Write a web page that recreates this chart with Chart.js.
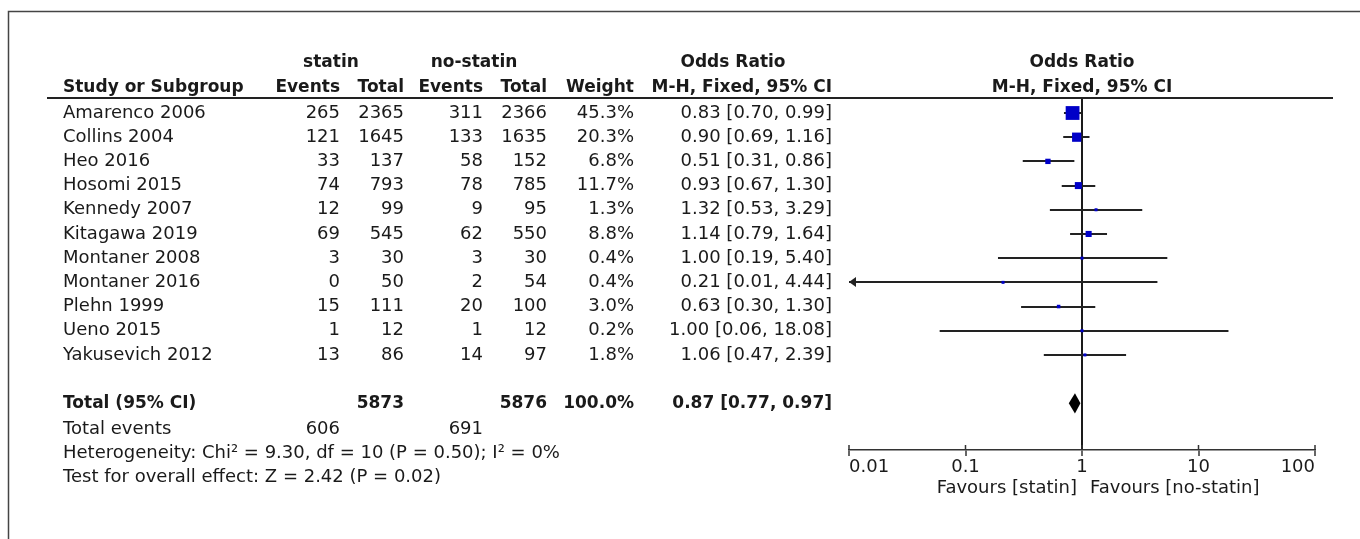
<!DOCTYPE html>
<html>
<head>
<meta charset="utf-8">
<script src="https://cdn.jsdelivr.net/npm/chart.js@4.4.1/dist/chart.umd.min.js"></script>
<style>
  html, body { margin: 0; padding: 0; background: #fff; }
  canvas { display: block; }
</style>
</head>
<body>
<canvas id="forest" width="1360" height="539"></canvas>
<script>
// study rows
const studies = ['Amarenco 2006', 'Collins 2004', 'Heo 2016', 'Hosomi 2015', 'Kennedy 2007',
  'Kitagawa 2019', 'Montaner 2008', 'Montaner 2016', 'Plehn 1999', 'Ueno 2015', 'Yakusevich 2012'];
const statinEvents = [265, 121, 33, 74, 12, 69, 3, 0, 15, 1, 13];
const statinTotal = [2365, 1645, 137, 793, 99, 545, 30, 50, 111, 12, 86];
const noStatinEvents = [311, 133, 58, 78, 9, 62, 3, 2, 20, 1, 14];
const noStatinTotal = [2366, 1635, 152, 785, 95, 550, 30, 54, 100, 12, 97];
const weights = [45.3, 20.3, 6.8, 11.7, 1.3, 8.8, 0.4, 0.4, 3.0, 0.2, 1.8];
const oddsRatio = [0.83, 0.90, 0.51, 0.93, 1.32, 1.14, 1.00, 0.21, 0.63, 1.00, 1.06];
const ciLow = [0.70, 0.69, 0.31, 0.67, 0.53, 0.79, 0.19, 0.01, 0.30, 0.06, 0.47];
const ciHigh = [0.99, 1.16, 0.86, 1.30, 3.29, 1.64, 5.40, 4.44, 1.30, 18.08, 2.39];

// pooled result
const totalStatin = 5873;
const totalNoStatin = 5876;
const eventsStatin = 606;
const eventsNoStatin = 691;
const pooledOR = 0.87;
const pooledLow = 0.77;
const pooledHigh = 0.97;
const heterogeneityText = 'Heterogeneity: Chi\u00B2 = 9.30, df = 10 (P = 0.50); I\u00B2 = 0%';
const overallText = 'Test for overall effect: Z = 2.42 (P = 0.02)';

const xTicks = [0.01, 0.1, 1, 10, 100];
const totalRow = 12;

const FONT = 'DejaVu Sans';
const INK = '#1a1a1a';
Chart.defaults.font.family = FONT;

const fmt2 = v => v.toFixed(2);
const orText = (o, l, h) => fmt2(o) + ' [' + fmt2(l) + ', ' + fmt2(h) + ']';

// column right edges / left edges (layout only)
const col = { study: 63, sEv: 340, sTot: 404, nEv: 483, nTot: 547, weight: 634, or: 832 };

const forestPlugin = {
  id: 'forest',
  beforeDatasetsDraw(chart) {
    const { ctx, scales: { x, y } } = chart;
    ctx.save();
    ctx.strokeStyle = '#222';
    ctx.fillStyle = '#222';
    ctx.lineWidth = 2;
    studies.forEach((s, i) => {
      const py = Math.round(y.getPixelForValue(i)) + 0.0;
      const lo = Math.max(ciLow[i], x.min);
      const x0 = x.getPixelForValue(lo);
      const x1 = x.getPixelForValue(Math.min(ciHigh[i], x.max));
      ctx.beginPath();
      ctx.moveTo(x0, py);
      ctx.lineTo(x1, py);
      ctx.stroke();
      if (ciLow[i] <= x.min) {
        ctx.beginPath();
        ctx.moveTo(x0, py);
        ctx.lineTo(x0 + 7, py - 5);
        ctx.lineTo(x0 + 7, py + 5);
        ctx.closePath();
        ctx.fill();
      }
    });
    // pooled diamond
    ctx.fillStyle = '#000';
    ctx.beginPath();
    ctx.moveTo(x.getPixelForValue(pooledLow), y.getPixelForValue(totalRow));
    ctx.lineTo(x.getPixelForValue(pooledOR), y.getPixelForValue(totalRow - 0.42));
    ctx.lineTo(x.getPixelForValue(pooledHigh), y.getPixelForValue(totalRow));
    ctx.lineTo(x.getPixelForValue(pooledOR), y.getPixelForValue(totalRow + 0.42));
    ctx.closePath();
    ctx.fill();
    ctx.restore();
  },
  afterDraw(chart) {
    const { ctx, chartArea, scales: { x, y } } = chart;
    ctx.save();
    // frame
    ctx.strokeStyle = '#444';
    ctx.lineWidth = 1.5;
    ctx.beginPath();
    ctx.moveTo(8.5, chart.height);
    ctx.lineTo(8.5, 11.5);
    ctx.lineTo(chart.width, 11.5);
    ctx.stroke();
    // header rule
    ctx.strokeStyle = '#222';
    ctx.lineWidth = 2;
    ctx.beginPath();
    ctx.moveTo(47, chartArea.top);
    ctx.lineTo(1333, chartArea.top);
    ctx.stroke();
    // upper halves of axis ticks
    ctx.strokeStyle = '#333';
    ctx.lineWidth = 1.5;
    x.ticks.forEach(t => {
      const px = x.getPixelForValue(t.value);
      ctx.beginPath();
      ctx.moveTo(px, chartArea.bottom - 5);
      ctx.lineTo(px, chartArea.bottom);
      ctx.stroke();
    });

    const bold = 'bold 17px "' + FONT + '"';
    const reg = '18px "' + FONT + '"';
    ctx.fillStyle = INK;
    ctx.textBaseline = 'middle';
    const text = (str, px, row, align, font) => {
      ctx.font = font;
      ctx.textAlign = align;
      ctx.fillText(str, px, y.getPixelForValue(row));
    };
    const x1 = x.getPixelForValue(1);

    // headers
    text('statin', 331, -2.07, 'center', bold);
    text('no-statin', 474, -2.07, 'center', bold);
    text('Odds Ratio', 733, -2.07, 'center', bold);
    text('Odds Ratio', x1, -2.07, 'center', bold);
    text('Study or Subgroup', col.study, -1.05, 'left', bold);
    text('Events', col.sEv, -1.05, 'right', bold);
    text('Total', col.sTot, -1.05, 'right', bold);
    text('Events', col.nEv, -1.05, 'right', bold);
    text('Total', col.nTot, -1.05, 'right', bold);
    text('Weight', col.weight, -1.05, 'right', bold);
    text('M-H, Fixed, 95% CI', col.or, -1.05, 'right', bold);
    text('M-H, Fixed, 95% CI', x1, -1.05, 'center', bold);

    // study rows
    studies.forEach((s, i) => {
      text(s, col.study, i, 'left', reg);
      text(String(statinEvents[i]), col.sEv, i, 'right', reg);
      text(String(statinTotal[i]), col.sTot, i, 'right', reg);
      text(String(noStatinEvents[i]), col.nEv, i, 'right', reg);
      text(String(noStatinTotal[i]), col.nTot, i, 'right', reg);
      text(weights[i].toFixed(1) + '%', col.weight, i, 'right', reg);
      text(orText(oddsRatio[i], ciLow[i], ciHigh[i]), col.or, i, 'right', reg);
    });

    // totals
    const wSum = weights.reduce((a, b) => a + b, 0);
    text('Total (95% CI)', col.study, totalRow, 'left', bold);
    text(String(totalStatin), col.sTot, totalRow, 'right', bold);
    text(String(totalNoStatin), col.nTot, totalRow, 'right', bold);
    text(wSum.toFixed(1) + '%', col.weight, totalRow, 'right', bold);
    text(orText(pooledOR, pooledLow, pooledHigh), col.or, totalRow, 'right', bold);
    text('Total events', col.study, totalRow + 1.08, 'left', reg);
    text(String(eventsStatin), col.sEv, totalRow + 1.08, 'right', reg);
    text(String(eventsNoStatin), col.nEv, totalRow + 1.08, 'right', reg);
    text(heterogeneityText, col.study, totalRow + 2.05, 'left', reg);
    text(overallText, col.study, totalRow + 3.05, 'left', reg);

    // favours labels
    ctx.font = reg;
    ctx.textAlign = 'right';
    ctx.fillText('Favours [statin]', x1 - 5, chartArea.bottom + 38);
    ctx.textAlign = 'left';
    ctx.fillText('Favours [no-statin]', x1 + 8, chartArea.bottom + 38);
    ctx.restore();
  }
};

const ctx = document.getElementById('forest').getContext('2d');
const forestChart = new Chart(ctx, {
  type: 'scatter',
  data: {
    datasets: [{
      data: studies.map((s, i) => ({ x: oddsRatio[i], y: i })),
      pointStyle: 'rect',
      pointRadius: weights.map(w => Math.max(3, 2.05 * Math.sqrt(w)) / Math.SQRT2),
      pointHoverRadius: weights.map(w => Math.max(3, 2.05 * Math.sqrt(w)) / Math.SQRT2),
      backgroundColor: '#0000c8',
      borderWidth: 0,
      clip: false,
    }],
  },
  options: {
    responsive: false,
    animation: false,
    events: [],
    layout: { padding: { left: 849, right: 45, top: 98, bottom: 49 } },
    plugins: { legend: { display: false }, tooltip: { enabled: false } },
    scales: {
      x: {
        type: 'logarithmic',
        min: 0.01,
        max: 100,
        position: 'bottom',
        afterBuildTicks: s => { s.ticks = xTicks.map(v => ({ value: v })); },
        afterFit: s => { s.height = 40; },
        ticks: {
          align: 'inner',
          autoSkip: false,
          maxRotation: 0,
          padding: 1,
          color: INK,
          font: { size: 18, family: FONT },
          callback: v => String(v),
        },
        grid: {
          drawOnChartArea: true,
          color: c => (c.tick && c.tick.value === 1 ? '#1a1a1a' : 'rgba(0,0,0,0)'),
          lineWidth: 2,
          tickColor: '#333',
          tickWidth: 1.5,
          tickLength: 6,
        },
        border: { display: true, color: '#333', width: 1.5 },
      },
      y: {
        type: 'linear',
        display: false,
        reverse: true,
        min: -0.62,
        max: 13.93,
      },
    },
  },
  plugins: [forestPlugin],
});
</script>
</body>
</html>
